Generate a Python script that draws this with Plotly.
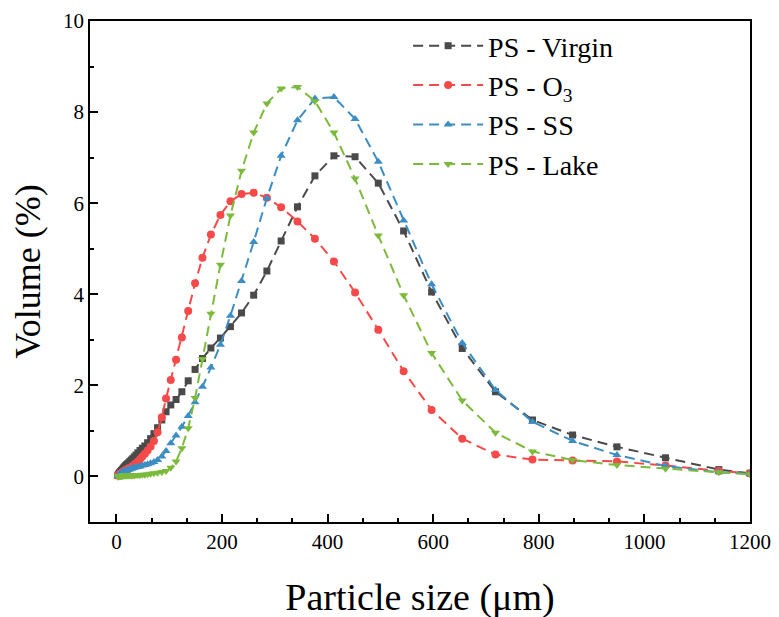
import plotly.graph_objects as go

# Particle size bins (µm)
size_um = [3.1, 3.4, 3.7, 4.0, 4.4, 4.9, 5.3, 5.9, 6.4, 7.0,
           7.7, 8.5, 9.3, 10.2, 11.2, 12.3, 13.5, 14.8, 16.2, 17.8,
           19.5, 21.4, 23.4, 25.7, 28.2, 30.9, 33.9, 37.2, 40.8, 44.8,
           49.1, 53.9, 59.1, 64.8, 71.1,
           78, 86, 94, 103, 113, 124, 136, 149, 163, 179,
           197, 216, 237, 260, 285, 312, 343, 376, 412, 452,
           496, 544, 597, 655, 718, 788, 864, 948, 1040, 1141,
           1200]

vol_virgin = [0.02, 0.03, 0.03, 0.04, 0.05, 0.05, 0.06, 0.07, 0.08, 0.09,
              0.10, 0.11, 0.12, 0.13, 0.15, 0.16, 0.18, 0.20, 0.22, 0.24,
              0.26, 0.28, 0.30, 0.33, 0.36, 0.39, 0.43, 0.47, 0.52, 0.57,
              0.62, 0.67, 0.74, 0.83, 0.94,
              1.07, 1.24, 1.42, 1.57, 1.69, 1.86, 2.10, 2.35, 2.59, 2.82,
              3.04, 3.29, 3.59, 3.98, 4.51, 5.17, 5.92, 6.60, 7.04, 7.02,
              6.44, 5.39, 4.05, 2.81, 1.86, 1.24, 0.91, 0.65, 0.41, 0.15,
              0.07]

vol_o3 = [0.02, 0.02, 0.03, 0.03, 0.03, 0.04, 0.04, 0.05, 0.05, 0.06,
          0.06, 0.07, 0.07, 0.08, 0.09, 0.10, 0.11, 0.12, 0.13, 0.14,
          0.15, 0.16, 0.18, 0.19, 0.21, 0.23, 0.26, 0.29, 0.33, 0.38,
          0.44, 0.50, 0.57, 0.66, 0.78,
          0.97, 1.30, 1.71, 2.12, 2.56, 3.05, 3.63, 4.24, 4.80, 5.31,
          5.74, 6.04, 6.20, 6.23, 6.12, 5.91, 5.60, 5.22, 4.72, 4.04,
          3.22, 2.31, 1.46, 0.83, 0.48, 0.37, 0.35, 0.33, 0.24, 0.12,
          0.07]

vol_ss = [0.02, 0.02, 0.03, 0.03, 0.03, 0.04, 0.04, 0.05, 0.05, 0.06,
          0.06, 0.07, 0.07, 0.08, 0.08, 0.09, 0.10, 0.11, 0.12, 0.12,
          0.13, 0.14, 0.15, 0.16, 0.17, 0.18, 0.19, 0.20, 0.21, 0.22,
          0.24, 0.25, 0.27, 0.29, 0.32,
          0.36, 0.44, 0.56, 0.73, 0.90, 1.09, 1.33, 1.63, 1.97, 2.39,
          2.89, 3.53, 4.29, 5.15, 6.11, 7.04, 7.82, 8.30, 8.33, 7.85,
          6.91, 5.62, 4.22, 2.93, 1.90, 1.20, 0.78, 0.47, 0.23, 0.09,
          0.06]

vol_lake = [0.00, 0.00, 0.00, 0.01, 0.01, 0.01, 0.01, 0.01, 0.01, 0.01,
            0.01, 0.01, 0.01, 0.01, 0.01, 0.02, 0.02, 0.02, 0.02, 0.02,
            0.02, 0.02, 0.02, 0.02, 0.02, 0.02, 0.02, 0.03, 0.03, 0.03,
            0.04, 0.04, 0.05, 0.06, 0.07,
            0.08, 0.10, 0.12, 0.19, 0.33, 0.62, 1.06, 1.72, 2.58, 3.57,
            4.65, 5.73, 6.71, 7.55, 8.19, 8.52, 8.55, 8.24, 7.55, 6.54,
            5.29, 3.98, 2.71, 1.67, 0.96, 0.55, 0.36, 0.25, 0.17, 0.09,
            0.05]

series_names = ["PS - Virgin", "PS - O<sub>3</sub>", "PS - SS", "PS - Lake"]
series_values = [vol_virgin, vol_o3, vol_ss, vol_lake]
colors = ["#4a4a4a", "#f64a4a", "#3c8dc4", "#7cba3c"]
symbols = ["square", "circle", "triangle-up", "triangle-down"]
sizes = [7, 8, 8, 8]

FONT = "Liberation Serif, Times New Roman, serif"

fig = go.Figure()
for i, (name, vals) in enumerate(zip(series_names, series_values)):
    fig.add_trace(go.Scatter(
        x=size_um, y=vals, name=name, mode="lines+markers",
        line=dict(color=colors[i], width=2, dash="10px,6px"),
        marker=dict(symbol=symbols[i], size=sizes[i], color=colors[i]),
        cliponaxis=True,
    ))

axis_common = dict(
    showline=True, linecolor="black", linewidth=1.5, mirror=True,
    showgrid=False, zeroline=False, automargin=False,
    ticks="inside", ticklen=8, tickwidth=1.5, tickcolor="black",
    tickfont=dict(family=FONT, size=21, color="black"),
)

fig.update_xaxes(
    range=[-50, 1200], tick0=0, dtick=200,
    minor=dict(ticks="inside", ticklen=4, tickwidth=1.5, tickcolor="black", dtick=200 / 3, tick0=0),
    title=dict(text="Particle size (μm)", font=dict(family=FONT, size=38, color="black"), standoff=30),
    **axis_common,
)
fig.update_yaxes(
    range=[-1, 10], tick0=0, dtick=2,
    minor=dict(ticks="inside", ticklen=4, tickwidth=1.5, tickcolor="black", dtick=1, tick0=0),
    title=dict(text="Volume (%)", font=dict(family=FONT, size=36, color="black"), standoff=12),
    **axis_common,
)

fig.update_layout(
    width=779, height=617,
    margin=dict(l=82, r=37, t=13, b=103),
    plot_bgcolor="white", paper_bgcolor="white",
    font=dict(family=FONT, color="black"),
    legend=dict(
        x=0.482, y=1.0, xanchor="left", yanchor="top",
        font=dict(family=FONT, size=28, color="black"),
        bgcolor="rgba(0,0,0,0)", borderwidth=0,
        itemwidth=70,
    ),
    showlegend=True,
)

fig.write_html("out.html")
